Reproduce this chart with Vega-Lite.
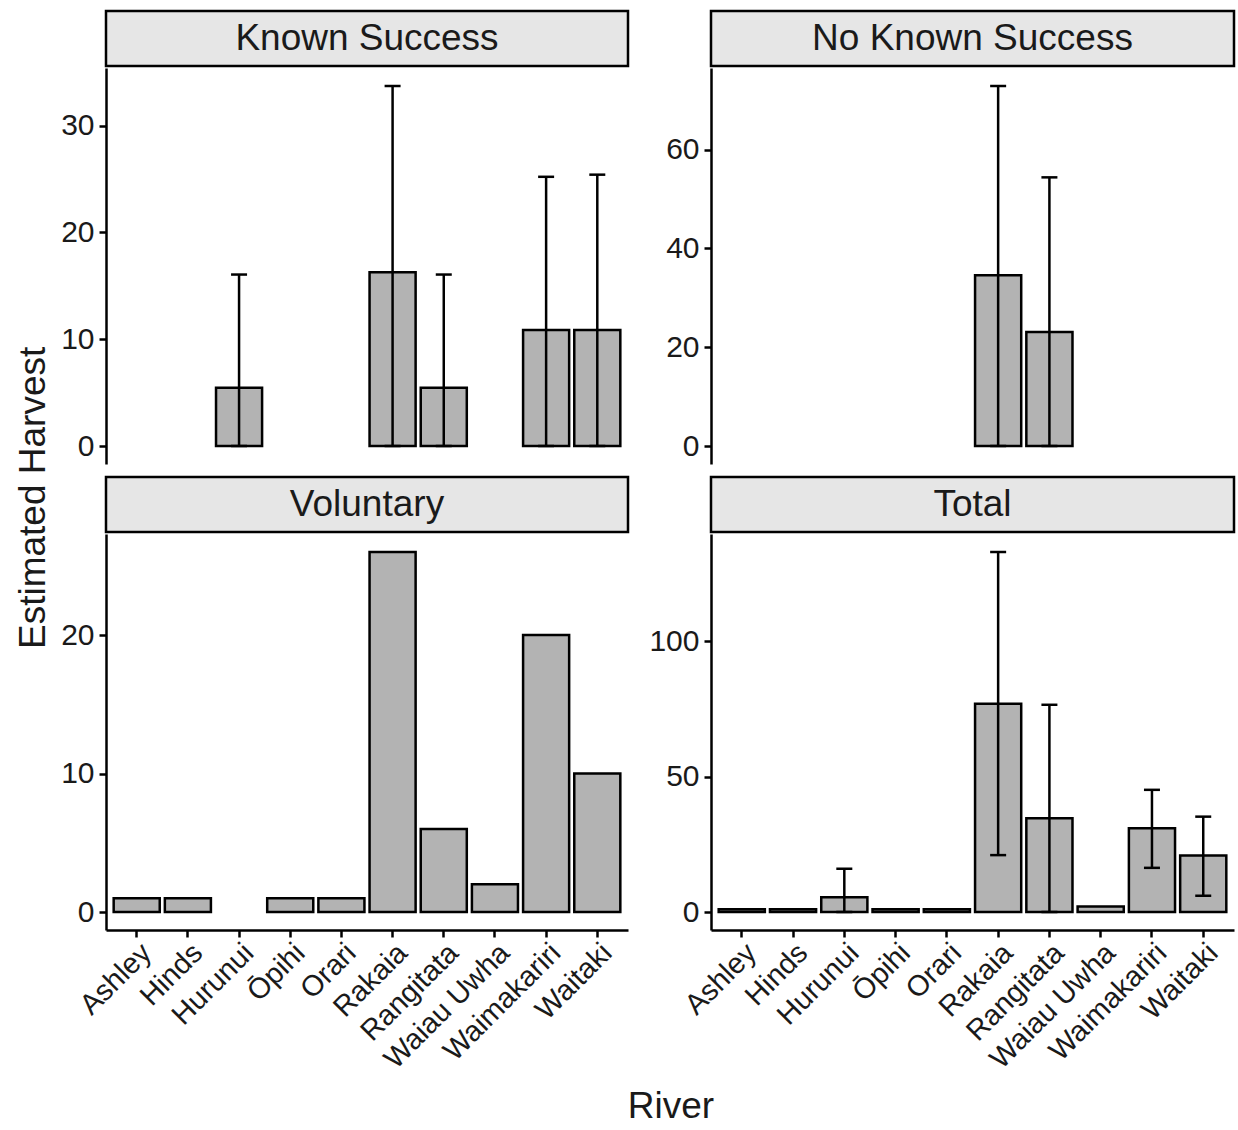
{
  "$schema": "https://vega.github.io/schema/vega-lite/v6.json",
  "padding": {"left": 14, "top": 9, "right": 4, "bottom": 5},
  "background": "white",
  "config": {
    "font": "Liberation Sans",
    "view": {"stroke": null},
    "axis": {"domainColor": "black", "domainWidth": 2.5, "tickColor": "black", "tickWidth": 2.5, "tickSize": 7, "labelColor": "#1a1a1a", "labelFontSize": 30, "labelFont": "Liberation Sans", "grid": false, "labelPadding": 5}
  },
  "datasets": {
    "harvest": [
      {"panel": "Known Success", "river": "Hurunui", "value": 5.46, "lo": 0, "hi": 16.05},
      {"panel": "Known Success", "river": "Rakaia", "value": 16.27, "lo": 0, "hi": 33.7},
      {"panel": "Known Success", "river": "Rangitata", "value": 5.46, "lo": 0, "hi": 16.05},
      {"panel": "Known Success", "river": "Waimakariri", "value": 10.87, "lo": 0, "hi": 25.2},
      {"panel": "Known Success", "river": "Waitaki", "value": 10.87, "lo": 0, "hi": 25.4},
      {"panel": "No Known Success", "river": "Rakaia", "value": 34.6, "lo": 0, "hi": 72.9},
      {"panel": "No Known Success", "river": "Rangitata", "value": 23.1, "lo": 0, "hi": 54.4},
      {"panel": "Voluntary", "river": "Ashley", "value": 1, "lo": null, "hi": null},
      {"panel": "Voluntary", "river": "Hinds", "value": 1, "lo": null, "hi": null},
      {"panel": "Voluntary", "river": "Ōpihi", "value": 1, "lo": null, "hi": null},
      {"panel": "Voluntary", "river": "Orari", "value": 1, "lo": null, "hi": null},
      {"panel": "Voluntary", "river": "Rakaia", "value": 26, "lo": null, "hi": null},
      {"panel": "Voluntary", "river": "Rangitata", "value": 6, "lo": null, "hi": null},
      {"panel": "Voluntary", "river": "Waiau Uwha", "value": 2, "lo": null, "hi": null},
      {"panel": "Voluntary", "river": "Waimakariri", "value": 20, "lo": null, "hi": null},
      {"panel": "Voluntary", "river": "Waitaki", "value": 10, "lo": null, "hi": null},
      {"panel": "Total", "river": "Ashley", "value": 1, "lo": null, "hi": null},
      {"panel": "Total", "river": "Hinds", "value": 1, "lo": null, "hi": null},
      {"panel": "Total", "river": "Hurunui", "value": 5.46, "lo": 0, "hi": 16.0},
      {"panel": "Total", "river": "Ōpihi", "value": 1, "lo": null, "hi": null},
      {"panel": "Total", "river": "Orari", "value": 1, "lo": null, "hi": null},
      {"panel": "Total", "river": "Rakaia", "value": 76.9, "lo": 21.0, "hi": 132.9},
      {"panel": "Total", "river": "Rangitata", "value": 34.6, "lo": 0, "hi": 76.5},
      {"panel": "Total", "river": "Waiau Uwha", "value": 2, "lo": null, "hi": null},
      {"panel": "Total", "river": "Waimakariri", "value": 30.9, "lo": 16.3, "hi": 45.1},
      {"panel": "Total", "river": "Waitaki", "value": 20.9, "lo": 6.0, "hi": 35.2}
    ]
  },
  "title": {"text": "River", "orient": "bottom", "frame": "bounds", "anchor": "middle", "fontSize": 37, "fontWeight": "normal", "color": "#1a1a1a", "offset": 15, "dx": 46},
  "vconcat": [
    {
      "title": {"text": "Estimated Harvest", "orient": "left", "frame": "bounds", "anchor": "middle", "fontSize": 37, "fontWeight": "normal", "color": "#1a1a1a", "offset": 8, "dx": 44},
      "columns": 2,
      "spacing": {"row": 11, "column": 18},
      "concat": [
        {
          "spacing": 0,
          "vconcat": [
            {"data": {"values": [{"label": "Known Success"}]}, "width": 522, "height": 55,
             "view": {"fill": "#e6e6e6", "stroke": "black", "strokeWidth": 2.5},
             "mark": {"type": "text", "fontSize": 37, "baseline": "middle", "align": "center", "color": "#1a1a1a"},
             "encoding": {"text": {"field": "label"}}},
            {"data": {"name": "harvest"}, "width": 522, "height": 396,
             "transform": [{"filter": "datum.panel === 'Known Success'"}],
             "encoding": {"x": {"field": "river", "type": "nominal", "scale": {"domain": ["Ashley", "Hinds", "Hurunui", "Ōpihi", "Orari", "Rakaia", "Rangitata", "Waiau Uwha", "Waimakariri", "Waitaki"], "paddingInner": 0.1, "paddingOuter": 0.15}, "axis": null}},
             "layer": [
               {"mark": {"type": "bar", "fill": "#b3b3b3", "stroke": "black", "strokeWidth": 2.5},
                "encoding": {"y": {"field": "value", "type": "quantitative", "title": null, "scale": {"domain": [-1.685, 35.385], "nice": false, "zero": false}, "axis": {"values": [0, 10, 20, 30], "title": null}}, "y2": {"datum": 0}}},
               {"transform": [{"filter": "isValid(datum.hi)"}], "mark": {"type": "rule", "strokeWidth": 2.5, "color": "black"},
                "encoding": {"y": {"field": "lo", "type": "quantitative", "title": null}, "y2": {"field": "hi"}}},
               {"transform": [{"filter": "isValid(datum.hi)"}], "mark": {"type": "tick", "size": 16, "thickness": 2.5, "color": "black", "opacity": 1},
                "encoding": {"y": {"field": "hi", "type": "quantitative", "title": null}}},
               {"transform": [{"filter": "isValid(datum.lo)"}], "mark": {"type": "tick", "size": 16, "thickness": 2.5, "color": "black", "opacity": 1},
                "encoding": {"y": {"field": "lo", "type": "quantitative", "title": null}}}
             ]}
          ]
        },
        {
          "spacing": 0,
          "vconcat": [
            {"data": {"values": [{"label": "No Known Success"}]}, "width": 523, "height": 55,
             "view": {"fill": "#e6e6e6", "stroke": "black", "strokeWidth": 2.5},
             "mark": {"type": "text", "fontSize": 37, "baseline": "middle", "align": "center", "color": "#1a1a1a"},
             "encoding": {"text": {"field": "label"}}},
            {"data": {"name": "harvest"}, "width": 523, "height": 396,
             "transform": [{"filter": "datum.panel === 'No Known Success'"}],
             "encoding": {"x": {"field": "river", "type": "nominal", "scale": {"domain": ["Ashley", "Hinds", "Hurunui", "Ōpihi", "Orari", "Rakaia", "Rangitata", "Waiau Uwha", "Waimakariri", "Waitaki"], "paddingInner": 0.1, "paddingOuter": 0.15}, "axis": null}},
             "layer": [
               {"mark": {"type": "bar", "fill": "#b3b3b3", "stroke": "black", "strokeWidth": 2.5},
                "encoding": {"y": {"field": "value", "type": "quantitative", "title": null, "scale": {"domain": [-3.645, 76.545], "nice": false, "zero": false}, "axis": {"values": [0, 20, 40, 60], "title": null}}, "y2": {"datum": 0}}},
               {"transform": [{"filter": "isValid(datum.hi)"}], "mark": {"type": "rule", "strokeWidth": 2.5, "color": "black"},
                "encoding": {"y": {"field": "lo", "type": "quantitative", "title": null}, "y2": {"field": "hi"}}},
               {"transform": [{"filter": "isValid(datum.hi)"}], "mark": {"type": "tick", "size": 16, "thickness": 2.5, "color": "black", "opacity": 1},
                "encoding": {"y": {"field": "hi", "type": "quantitative", "title": null}}},
               {"transform": [{"filter": "isValid(datum.lo)"}], "mark": {"type": "tick", "size": 16, "thickness": 2.5, "color": "black", "opacity": 1},
                "encoding": {"y": {"field": "lo", "type": "quantitative", "title": null}}}
             ]}
          ]
        },
        {
          "spacing": 0,
          "vconcat": [
            {"data": {"values": [{"label": "Voluntary"}]}, "width": 522, "height": 55,
             "view": {"fill": "#e6e6e6", "stroke": "black", "strokeWidth": 2.5},
             "mark": {"type": "text", "fontSize": 37, "baseline": "middle", "align": "center", "color": "#1a1a1a"},
             "encoding": {"text": {"field": "label"}}},
            {"data": {"name": "harvest"}, "width": 522, "height": 396,
             "transform": [{"filter": "datum.panel === 'Voluntary'"}],
             "encoding": {"x": {"field": "river", "type": "nominal", "title": null, "scale": {"domain": ["Ashley", "Hinds", "Hurunui", "Ōpihi", "Orari", "Rakaia", "Rangitata", "Waiau Uwha", "Waimakariri", "Waitaki"], "paddingInner": 0.1, "paddingOuter": 0.15}, "axis": {"title": null, "labelAngle": -45, "labelAlign": "right", "labelBaseline": "top", "labelOverlap": false, "labelPadding": 1, "labelFontSize": 29}}},
             "layer": [
               {"mark": {"type": "bar", "fill": "#b3b3b3", "stroke": "black", "strokeWidth": 2.5},
                "encoding": {"y": {"field": "value", "type": "quantitative", "title": null, "scale": {"domain": [-1.3, 27.3], "nice": false, "zero": false}, "axis": {"values": [0, 10, 20], "title": null}}, "y2": {"datum": 0}}}
             ]}
          ]
        },
        {
          "spacing": 0,
          "vconcat": [
            {"data": {"values": [{"label": "Total"}]}, "width": 523, "height": 55,
             "view": {"fill": "#e6e6e6", "stroke": "black", "strokeWidth": 2.5},
             "mark": {"type": "text", "fontSize": 37, "baseline": "middle", "align": "center", "color": "#1a1a1a"},
             "encoding": {"text": {"field": "label"}}},
            {"data": {"name": "harvest"}, "width": 523, "height": 396,
             "transform": [{"filter": "datum.panel === 'Total'"}],
             "encoding": {"x": {"field": "river", "type": "nominal", "title": null, "scale": {"domain": ["Ashley", "Hinds", "Hurunui", "Ōpihi", "Orari", "Rakaia", "Rangitata", "Waiau Uwha", "Waimakariri", "Waitaki"], "paddingInner": 0.1, "paddingOuter": 0.15}, "axis": {"title": null, "labelAngle": -45, "labelAlign": "right", "labelBaseline": "top", "labelOverlap": false, "labelPadding": 1, "labelFontSize": 29}}},
             "layer": [
               {"mark": {"type": "bar", "fill": "#b3b3b3", "stroke": "black", "strokeWidth": 2.5},
                "encoding": {"y": {"field": "value", "type": "quantitative", "title": null, "scale": {"domain": [-6.645, 139.545], "nice": false, "zero": false}, "axis": {"values": [0, 50, 100], "title": null}}, "y2": {"datum": 0}}},
               {"transform": [{"filter": "isValid(datum.hi)"}], "mark": {"type": "rule", "strokeWidth": 2.5, "color": "black"},
                "encoding": {"y": {"field": "lo", "type": "quantitative", "title": null}, "y2": {"field": "hi"}}},
               {"transform": [{"filter": "isValid(datum.hi)"}], "mark": {"type": "tick", "size": 16, "thickness": 2.5, "color": "black", "opacity": 1},
                "encoding": {"y": {"field": "hi", "type": "quantitative", "title": null}}},
               {"transform": [{"filter": "isValid(datum.lo)"}], "mark": {"type": "tick", "size": 16, "thickness": 2.5, "color": "black", "opacity": 1},
                "encoding": {"y": {"field": "lo", "type": "quantitative", "title": null}}}
             ]}
          ]
        }
      ]
    }
  ]
}
